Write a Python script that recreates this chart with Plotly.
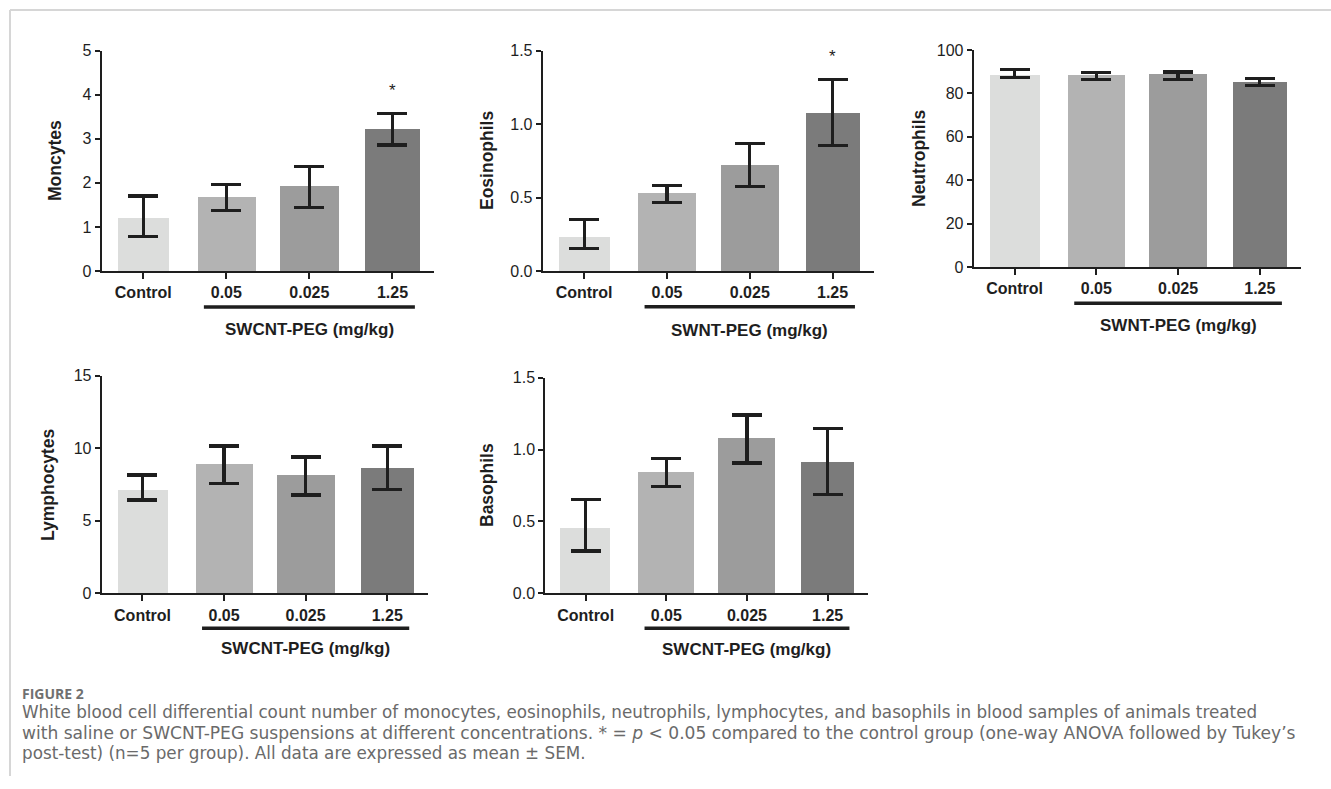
import plotly.graph_objects as go

W, H = 1331, 789

categories = ["Control", "0.05", "0.025", "1.25"]

monocytes_mean = [1.20, 1.69, 1.93, 3.22]
monocytes_err_plus = [0.50, 0.28, 0.44, 0.35]
monocytes_err_minus = [0.42, 0.32, 0.48, 0.36]

eosinophils_mean = [0.234, 0.530, 0.727, 1.079]
eosinophils_err_plus = [0.114, 0.050, 0.139, 0.225]
eosinophils_err_minus = [0.079, 0.064, 0.154, 0.222]

neutrophils_mean = [88.3, 88.6, 88.8, 85.3]
neutrophils_err_plus = [2.6, 1.0, 1.1, 1.6]
neutrophils_err_minus = [1.1, 2.3, 2.4, 1.8]

lymphocytes_mean = [7.17, 8.90, 8.20, 8.64]
lymphocytes_err_plus = [0.99, 1.26, 1.20, 1.52]
lymphocytes_err_minus = [0.74, 1.34, 1.42, 1.50]

basophils_mean = [0.459, 0.846, 1.085, 0.915]
basophils_err_plus = [0.195, 0.093, 0.155, 0.232]
basophils_err_minus = [0.165, 0.105, 0.179, 0.225]

monocytes_star = [None, None, None, 4.19]
eosinophils_star = [None, None, None, 1.49]

y_ranges = [[0, 5], [0, 1.5], [0, 100], [0, 15], [0, 1.5]]
y_ticks = [[0, 1, 2, 3, 4, 5], [0, 0.5, 1.0, 1.5], [0, 20, 40, 60, 80, 100],
           [0, 5, 10, 15], [0, 0.5, 1.0, 1.5]]
y_ticktext = [["0", "1", "2", "3", "4", "5"], ["0.0", "0.5", "1.0", "1.5"],
              ["0", "20", "40", "60", "80", "100"], ["0", "5", "10", "15"],
              ["0.0", "0.5", "1.0", "1.5"]]
y_titles = ["Moncytes", "Eosinophils", "Neutrophils", "Lymphocytes", "Basophils"]
group_titles = ["SWCNT-PEG (mg/kg)", "SWNT-PEG (mg/kg)", "SWNT-PEG (mg/kg)",
                "SWCNT-PEG (mg/kg)", "SWCNT-PEG (mg/kg)"]

caption_head = "FIGURE 2"
caption_lines = [
    "White blood cell differential count number of monocytes, eosinophils, neutrophils, lymphocytes, and basophils in blood samples of animals treated",
    "with saline or SWCNT-PEG suspensions at different concentrations. * = <i>p</i> &lt; 0.05 compared to the control group (one-way ANOVA followed by Tukey\u2019s",
    "post-test) (n=5 per group). All data are expressed as mean \u00b1 SEM.",
]

bar_colors = ["#dcdddc", "#b3b3b3", "#9c9c9c", "#7b7b7b"]
bar_widths = [0.62, 0.70, 0.71, 0.66]

means = [monocytes_mean, eosinophils_mean, neutrophils_mean, lymphocytes_mean, basophils_mean]
eplus = [monocytes_err_plus, eosinophils_err_plus, neutrophils_err_plus,
         lymphocytes_err_plus, basophils_err_plus]
eminus = [monocytes_err_minus, eosinophils_err_minus, neutrophils_err_minus,
          lymphocytes_err_minus, basophils_err_minus]
stars = [monocytes_star, eosinophils_star, None, None, None]

# panel layout in pixels: x_left, x_right, y_top, y_bottom, ytitle_x, ytitle_y, underline_y, grouptitle_y
panels = [
    (101.7, 434.0, 50.7, 271.0, 55, 161, 307.0, 329),
    (542.7, 874.0, 50.7, 271.0, 487, 161, 306.7, 330),
    (973.7, 1300.7, 50.0, 267.0, 919, 159, 303.3, 325),
    (101.7, 428.0, 375.7, 593.3, 48, 485, 628.3, 648),
    (545.3, 868.0, 377.7, 593.3, 487, 485, 628.3, 649),
]

FONT = "Liberation Sans, Arial, sans-serif"
INK = "#1e1e1e"

fig = go.Figure()
annotations = []
shapes = []
xs = list(range(len(categories)))

for i, (xl, xr, yt, yb, tx, ty, uy, gy) in enumerate(panels):
    n = "" if i == 0 else str(i + 1)
    xa, ya = "x" + n, "y" + n
    fig.add_trace(go.Bar(
        x=xs, y=means[i], width=bar_widths, marker=dict(color=bar_colors, line=dict(width=0)),
        error_y=dict(type="data", symmetric=False, array=eplus[i], arrayminus=eminus[i],
                     color=INK, thickness=3.2, width=15),
        xaxis=xa, yaxis=ya, showlegend=False, hoverinfo="skip",
    ))
    if stars[i] is not None:
        for xv, sv in zip(xs, stars[i]):
            if sv is not None:
                annotations.append(dict(
                    x=xv, y=sv, xref=xa, yref=ya, text="*", showarrow=False, yshift=-4,
                    font=dict(family=FONT, size=17, color=INK),
                    xanchor="center", yanchor="middle",
                ))
    xkey = "xaxis" + n
    ykey = "yaxis" + n
    fig.layout[xkey] = dict(
        domain=[xl / W, xr / W], range=[-0.5, len(categories) - 0.5], anchor=ya,
        tickvals=xs, ticktext=["<b>%s</b>" % c for c in categories],
        tickfont=dict(family=FONT, size=16, color=INK),
        showline=True, linecolor=INK, linewidth=2, ticks="outside", ticklen=6,
        tickwidth=2, tickcolor=INK, showgrid=False, zeroline=False, fixedrange=True,
        automargin=False,
    )
    fig.layout[ykey] = dict(
        domain=[1 - yb / H, 1 - yt / H], range=y_ranges[i], anchor=xa,
        tickvals=y_ticks[i], ticktext=y_ticktext[i],
        tickfont=dict(family=FONT, size=16, color=INK),
        showline=True, linecolor=INK, linewidth=2, ticks="outside", ticklen=5,
        tickwidth=2, tickcolor=INK, showgrid=False, zeroline=False, fixedrange=True,
        automargin=False,
    )
    annotations.append(dict(
        x=tx / W, y=1 - ty / H, xref="paper", yref="paper", text="<b>%s</b>" % y_titles[i],
        textangle=-90, showarrow=False, font=dict(family=FONT, size=17.5, color=INK),
        xanchor="center", yanchor="middle",
    ))
    annotations.append(dict(
        x=(xs[1] + xs[-1]) / 2, y=1 - gy / H, xref=xa, yref="paper",
        text="<b>%s</b>" % group_titles[i], showarrow=False,
        font=dict(family=FONT, size=17, color=INK), xanchor="center", yanchor="middle",
    ))
    shapes.append(dict(
        type="line", xref=xa, yref="paper", x0=xs[1] - 0.27, x1=xs[-1] + 0.27,
        y0=1 - uy / H, y1=1 - uy / H, line=dict(color=INK, width=3.5),
    ))

# frame lines
shapes.append(dict(type="line", xref="paper", yref="paper", x0=10 / W, x1=1,
                   y0=1 - 10 / H, y1=1 - 10 / H, line=dict(color="#d6d6d6", width=2)))
shapes.append(dict(type="line", xref="paper", yref="paper", x0=10 / W, x1=10 / W,
                   y0=1 - 10 / H, y1=1 - 776 / H, line=dict(color="#d6d6d6", width=2)))

CAP_FONT = "DejaVu Sans, sans-serif"
annotations.append(dict(
    x=20 / W, y=1 - 693.5 / H, xref="paper", yref="paper", text="<b>%s</b>" % caption_head,
    showarrow=False, font=dict(family="Open Sans, sans-serif", size=14, color="#707070"),
    xanchor="left", yanchor="middle",
))
cap_sizes = [16.8, 17.1, 16.8]
for k, line in enumerate(caption_lines):
    annotations.append(dict(
        x=20 / W, y=1 - (712 + 20.5 * k) / H, xref="paper", yref="paper", text=line,
        showarrow=False, font=dict(family=CAP_FONT, size=cap_sizes[k], color="#6a6a6a"),
        xanchor="left", yanchor="middle",
    ))

fig.update_layout(
    width=W, height=H, margin=dict(l=0, r=0, t=0, b=0, pad=0, autoexpand=False),
    paper_bgcolor="white", plot_bgcolor="white", bargap=0, showlegend=False,
    annotations=annotations, shapes=shapes,
)

fig.write_html(
    "out.html",
    config={"displayModeBar": False, "responsive": False},
    post_script="document.body.style.margin='0';document.body.style.overflow='hidden';",
)
